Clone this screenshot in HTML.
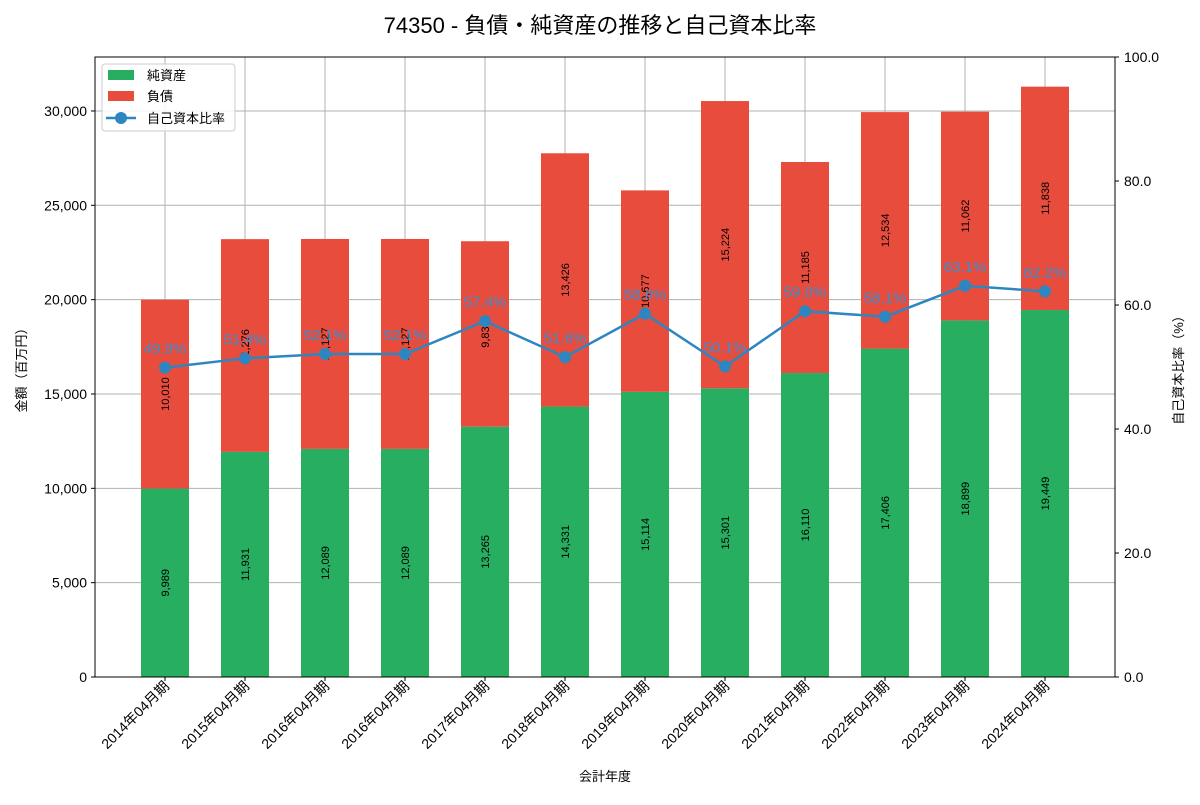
<!DOCTYPE html>
<html><head><meta charset="utf-8"><style>
body{margin:0;background:#fff;font-family:"Liberation Sans","Noto Sans CJK JP",sans-serif}
svg text{font-family:"Liberation Sans","Noto Sans CJK JP",sans-serif}
</style></head><body>
<svg id="c" width="1200" height="800" xmlns="http://www.w3.org/2000/svg"></svg>
<script>
const categories=["2014年04月期","2015年04月期","2016年04月期","2016年04月期","2017年04月期","2018年04月期","2019年04月期","2020年04月期","2021年04月期","2022年04月期","2023年04月期","2024年04月期"];
const netAssets=[9989,11931,12089,12089,13265,14331,15114,15301,16110,17406,18899,19449];
const liabilities=[10010,11276,11127,11127,9831,13426,10677,15224,11185,12534,11062,11838];
const ratios=[49.9,51.4,52.1,52.1,57.4,51.6,58.6,50.1,59.0,58.1,63.1,62.2];
const leftTicks=[0,5000,10000,15000,20000,25000,30000];
const rightTicks=[0,20,40,60,80,100];
const L=95,R=1115,T=57,B=677,LMAX=32860;
const svg=document.getElementById('c');const NS="http://www.w3.org/2000/svg";
function el(t,a,txt){const e=document.createElementNS(NS,t);for(const k in a)e.setAttribute(k,a[k]);if(txt!==undefined)e.textContent=txt;svg.appendChild(e);return e;}
const y=v=>B-v/LMAX*(B-T);
const yr=v=>B-v/100*(B-T);
const pad=70;
const step=(R-L-2*pad)/(categories.length-1);
const x=i=>L+pad+step*i;
const fmt=v=>v.toLocaleString('en-US');
let t=el('text',{x:600,y:33,'font-size':22,'text-anchor':'middle',fill:'#000'},'74350 - 負債・純資産の推移と自己資本比率');

leftTicks.forEach(v=>{const g=el('line',{x1:L,x2:R,y1:y(v),y2:y(v),stroke:'#b0b0b0','stroke-width':1});
const tx=el('text',{x:L-8,y:y(v)+5,'font-size':14,'text-anchor':'end'},fmt(v));
el('line',{x1:L-4,x2:L,y1:y(v),y2:y(v),stroke:'#000'});});
categories.forEach((c,i)=>{const g=el('line',{x1:x(i),x2:x(i),y1:T,y2:B,stroke:'#b0b0b0','stroke-width':1});});
categories.forEach((c,i)=>{
 const bw=48;
 let b=el('rect',{x:x(i)-bw/2,y:y(netAssets[i]),width:bw,height:B-y(netAssets[i]),fill:'#27ae60'});
 const top=netAssets[i]+liabilities[i];
 b=el('rect',{x:x(i)-bw/2,y:y(top),width:bw,height:y(netAssets[i])-y(top),fill:'#e74c3c'});
 let ym=y(netAssets[i]/2);
 let l=el('text',{x:0,y:0,'font-size':11,'text-anchor':'middle',transform:`translate(${x(i)+4},${ym}) rotate(-90)`},fmt(netAssets[i]));
 ym=y(netAssets[i]+liabilities[i]/2);
 l=el('text',{x:0,y:0,'font-size':11,'text-anchor':'middle',transform:`translate(${x(i)+4},${ym}) rotate(-90)`},fmt(liabilities[i]));
 l=el('text',{x:0,y:0,'font-size':14,'text-anchor':'end',transform:`translate(${x(i)+5},${B+10}) rotate(-45)`},c);
 el('line',{x1:x(i),x2:x(i),y1:B,y2:B+4,stroke:'#000'});
});
let p=el('polyline',{points:ratios.map((r,i)=>x(i)+','+yr(r)).join(' '),fill:'none',stroke:'#2e86c1','stroke-width':2.5});
ratios.forEach((r,i)=>{let c=el('circle',{cx:x(i),cy:yr(r),r:6,fill:'#2e86c1'});
 let l=el('text',{x:x(i),y:yr(r)-14,'font-size':15,'text-anchor':'middle',fill:'#3a8fd0'},r.toFixed(1)+'%');});
rightTicks.forEach(v=>{el('line',{x1:R,x2:R+4,y1:yr(v),y2:yr(v),stroke:'#000'});let l=el('text',{x:R+9,y:yr(v)+5,'font-size':14},v.toFixed(1));});
let fr=el('rect',{x:L,y:T,width:R-L,height:B-T,fill:'none',stroke:'#000','stroke-width':1});
let a=el('text',{x:0,y:0,'font-size':13,'text-anchor':'middle',transform:`translate(26,${(T+B)/2}) rotate(-90)`},'金額（百万円）');
a=el('text',{x:0,y:0,'font-size':13,'text-anchor':'middle',transform:`translate(1183,${(T+B)/2}) rotate(-90)`},'自己資本比率（%）');
a=el('text',{x:605,y:781,'font-size':13,'text-anchor':'middle'},'会計年度');
let lg=el('rect',{x:102,y:64,width:133,height:67,fill:'#fff','fill-opacity':0.85,stroke:'#ccc',rx:3});
let r1=el('rect',{x:108,y:70,width:26,height:10,fill:'#27ae60'});
let t1=el('text',{x:147,y:80,'font-size':13},'純資産');
let r2=el('rect',{x:108,y:91,width:26,height:10,fill:'#e74c3c'});
let t2=el('text',{x:147,y:101,'font-size':13},'負債');
let l3=el('line',{x1:106,x2:136,y1:118,y2:118,stroke:'#2e86c1','stroke-width':2.5});
el('circle',{cx:121,cy:118,r:6,fill:'#2e86c1'});
let t3=el('text',{x:147,y:123,'font-size':13},'自己資本比率');
</script>
</body></html>
